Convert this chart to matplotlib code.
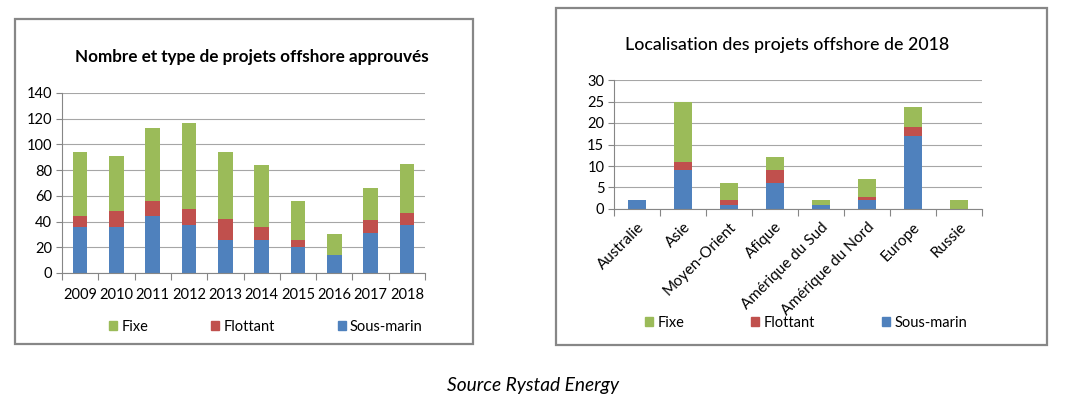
import numpy as np
import matplotlib
matplotlib.use("Agg")
import matplotlib.pyplot as plt
from matplotlib.patches import Rectangle, Patch

plt.rcParams['font.family'] = ['Lato', 'DejaVu Sans']

# ---- data: left chart ----
years = ['2009', '2010', '2011', '2012', '2013', '2014', '2015', '2016', '2017', '2018']
sous_marin_y = [36, 36, 44, 37, 26, 26, 20, 14, 31, 37]
flottant_y = [8, 12, 12, 13, 16, 10, 6, 0, 10, 10]
fixe_y = [50, 43, 57, 67, 52, 48, 30, 16, 25, 38]

# ---- data: right chart ----
regions = ['Australie', 'Asie', 'Moyen-Orient', 'Afique', 'Amérique du Sud',
           'Amérique du Nord', 'Europe', 'Russie']
sous_marin_r = [2, 9, 1, 6, 1, 2.2, 17, 0]
flottant_r = [0, 2, 1, 3, 0, 0.6, 2, 0]
fixe_r = [0, 14, 4, 3, 1, 4.2, 4.8, 2]

series_names = ['Fixe', 'Flottant', 'Sous-marin']
C_BLUE = '#4F81BD'
C_RED = '#C0504D'
C_GREEN = '#9BBB59'
GRID = '#A6A6A6'
AXC = '#868686'

W, H = 1065, 408
fig = plt.figure(figsize=(W / 100, H / 100), dpi=100)


def fx(px):
    return px / W


def fy(py):
    return 1 - py / H


def box(x0, y0, x1, y1):
    fig.patches.append(Rectangle((fx(x0), fy(y1)), fx(x1 - x0), (y1 - y0) / H,
                                 transform=fig.transFigure, fill=False,
                                 edgecolor='#878787', linewidth=1.6))


box(15, 19, 473, 344)
box(556, 8, 1047, 345)


def style_axes(ax, n, ymax, ystep):
    ax.set_xlim(-0.5, n - 0.5)
    ax.set_ylim(0, ymax)
    ax.set_yticks(np.arange(0, ymax + 0.1, ystep))
    ax.yaxis.grid(True, color=GRID, linewidth=0.8)
    ax.set_axisbelow(True)
    for s in ['top', 'right']:
        ax.spines[s].set_visible(False)
    for s in ['left', 'bottom']:
        ax.spines[s].set_color(AXC)
        ax.spines[s].set_linewidth(0.8)
    ax.tick_params(axis='y', length=4, color=AXC, labelsize=10.5, pad=3)
    ax.set_xticks(np.arange(n + 1) - 0.5)
    ax.set_xticklabels([''] * (n + 1))
    ax.tick_params(axis='x', which='major', length=5, color=AXC)
    ax.set_xticks(np.arange(n), minor=True)
    ax.tick_params(axis='x', which='minor', length=0, labelsize=10.5)


def stacked(ax, cats, sm, fl, fi):
    x = np.arange(len(cats))
    sm = np.array(sm, float)
    fl = np.array(fl, float)
    fi = np.array(fi, float)
    ax.bar(x, sm, 0.4, color=C_BLUE, label='Sous-marin', zorder=2)
    ax.bar(x, fl, 0.4, bottom=sm, color=C_RED, label='Flottant', zorder=2)
    ax.bar(x, fi, 0.4, bottom=sm + fl, color=C_GREEN, label='Fixe', zorder=2)


handles = [Patch(color=C_GREEN), Patch(color=C_RED), Patch(color=C_BLUE)]

# ---- left chart ----
ax1 = fig.add_axes([fx(62), fy(273), fx(425 - 62), (273 - 93) / H])
stacked(ax1, years, sous_marin_y, flottant_y, fixe_y)
style_axes(ax1, len(years), 140, 20)
ax1.set_xticklabels(years, minor=True)
ax1.tick_params(axis='x', which='minor', pad=11)
fig.text(fx(252), fy(57), 'Nombre et type de projets offshore approuvés',
         ha='center', va='center', fontsize=12.3, fontweight='bold')
fig.legend(handles, series_names, loc='center', bbox_to_anchor=(fx(266), fy(327)),
           ncol=3, frameon=False, fontsize=10.5, handlelength=0.55, handleheight=0.55,
           handletextpad=0.3, columnspacing=4.3)

# ---- right chart ----
ax2 = fig.add_axes([fx(614), fy(209), fx(982 - 614), (209 - 80) / H])
stacked(ax2, regions, sous_marin_r, flottant_r, fixe_r)
style_axes(ax2, len(regions), 30, 5)
ax2.set_xticklabels(regions, minor=True, rotation=45, ha='right',
                    rotation_mode='anchor')
ax2.tick_params(axis='x', which='minor', pad=8, labelsize=11)
fig.text(fx(787), fy(45), 'Localisation des projets offshore de 2018',
         ha='center', va='center', fontsize=12.8, fontweight='medium')
fig.legend(handles, series_names, loc='center', bbox_to_anchor=(fx(806), fy(323)),
           ncol=3, frameon=False, fontsize=10.5, handlelength=0.55, handleheight=0.55,
           handletextpad=0.3, columnspacing=4.6)

fig.text(fx(533), fy(385), 'Source Rystad Energy', ha='center', va='center',
         fontsize=13.8, style='italic')

fig.savefig('out.png', dpi=100)
